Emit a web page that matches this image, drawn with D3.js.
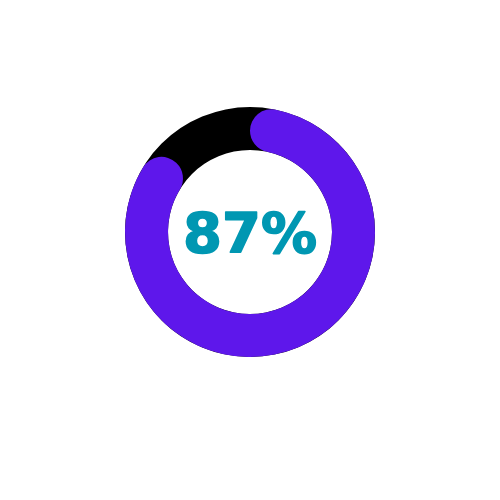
<!DOCTYPE html>
<html><head><meta charset="utf-8">
<script src="https://cdn.jsdelivr.net/npm/d3@7"></script>
<style>html,body{margin:0;padding:0;background:#fff}</style>
</head><body>
<svg id="c" width="500" height="500"></svg>
<script>
const percentValue = [87];
const labels = ["87%"];
const colors = ["#000000", "#5e17eb", "#0097b2"];

const svg = d3.select("#c");
const g = svg.append("g").attr("transform", "translate(250,232)");
const outerR = 125, innerR = 82;
const scale = d3.scaleLinear().domain([0, 100]).range([0, 2 * Math.PI]);

g.append("path")
  .attr("d", d3.arc().innerRadius(innerR).outerRadius(outerR).startAngle(0).endAngle(2 * Math.PI)())
  .attr("fill", colors[0]);

g.append("path")
  .attr("d", d3.arc().innerRadius(innerR).outerRadius(outerR).cornerRadius((outerR - innerR) / 2)
    .startAngle(0).endAngle(scale(percentValue[0]))())
  .attr("fill", colors[1]);

g.append("text")
  .attr("x", 0).attr("y", 20)
  .attr("text-anchor", "middle")
  .attr("font-family", "DejaVu Sans")
  .attr("font-weight", "bold")
  .attr("font-size", 56)
  .attr("fill", colors[2])
  .attr("stroke", colors[2])
  .attr("stroke-width", 1.6)
  .attr("stroke-linejoin", "round")
  .text(labels[0]);
</script>
</body></html>
